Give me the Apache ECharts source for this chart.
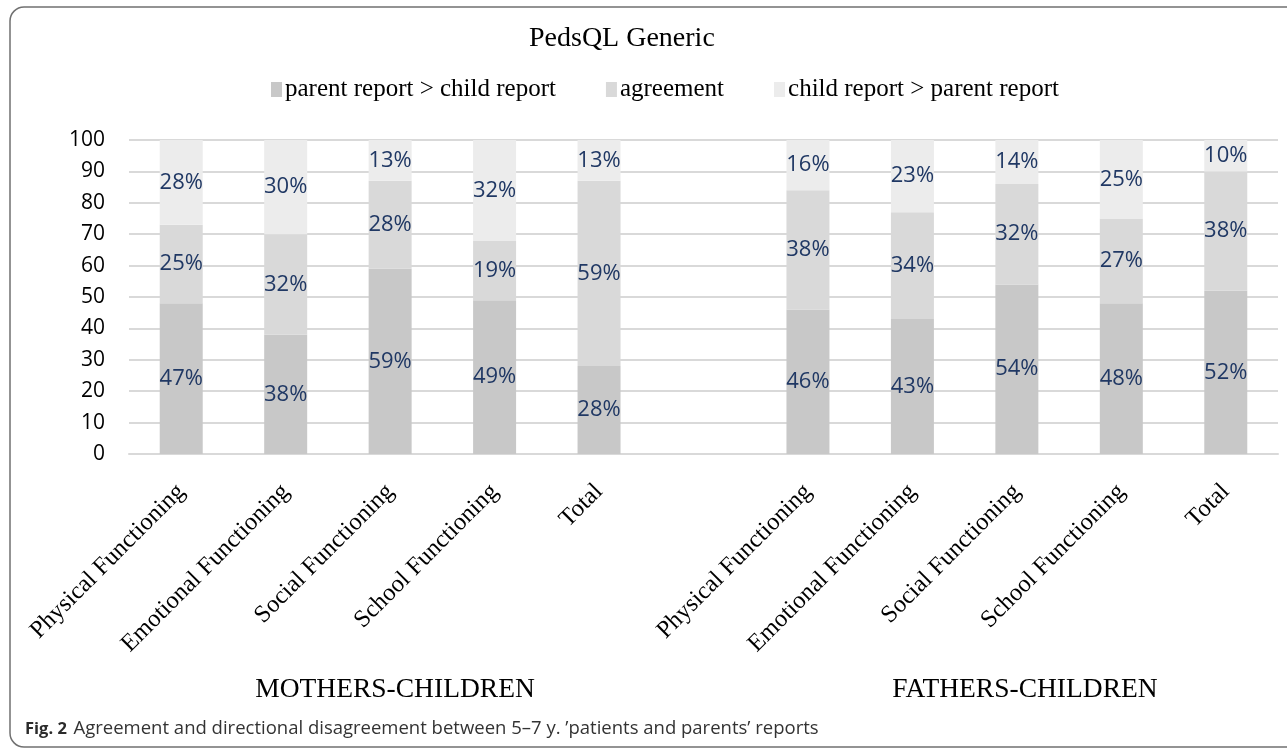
<!DOCTYPE html>
<html>
<head>
<meta charset="utf-8">
<script src="https://cdn.jsdelivr.net/npm/echarts@6/dist/echarts.min.js"></script>
<style>
html,body{margin:0;padding:0;background:#fff;}
#chart{width:1287px;height:749px;}
</style>
</head>
<body>
<div id="chart"></div>
<script>
// Categories (empty slot separates the two groups)
const categories = ['Physical Functioning','Emotional Functioning','Social Functioning','School Functioning','Total','',
  'Physical Functioning','Emotional Functioning','Social Functioning','School Functioning','Total'];
const seriesNames = ['parent report > child report','agreement','child report > parent report'];
// Segment heights as drawn
const parentGreater = [48, 38, 59, 49, 28, '-', 46, 43, 54, 48, 52];
const agreement     = [25, 32, 28, 19, 59, '-', 38, 34, 32, 27, 38];
const childGreater  = [27, 30, 13, 32, 13, '-', 16, 23, 14, 25, 10];
// Printed data labels
const parentLabels    = ['47%','38%','59%','49%','28%','','46%','43%','54%','48%','52%'];
const agreementLabels = ['25%','32%','28%','19%','59%','','38%','34%','32%','27%','38%'];
const childLabels     = ['28%','30%','13%','32%','13%','','16%','23%','14%','25%','10%'];
const yTicks = [0,10,20,30,40,50,60,70,80,90,100];
const groupLabels = ['MOTHERS-CHILDREN','FATHERS-CHILDREN'];

const colors = ['#c8c8c8','#d9d9d9','#ececec'];
const serif = 'Liberation Serif';
const sans = 'Open Sans';

function mkSeries(name, data, labels, color){
  return {
    name: name, type: 'bar', stack: 'total', data: data, barWidth: 43,
    itemStyle: {color: color},
    label: {show: true, position: 'inside', color: '#203864', fontFamily: sans, fontSize: 22,
      formatter: p => labels[p.dataIndex]},
    emphasis: {disabled: true}
  };
}

const chart = echarts.init(document.getElementById('chart'));
chart.setOption({
  animation: false,
  backgroundColor: '#fff',
  title: {text: 'PedsQL Generic', left: 524, top: 20,
    textStyle: {fontFamily: serif, fontSize: 28, fontWeight: 'normal', color: '#000'}},
  legend: {top: 72, left: 266, itemWidth: 11, itemHeight: 15, itemGap: 50,
    icon: 'rect',
    textStyle: {fontFamily: serif, fontSize: 25, color: '#000', padding: [0,0,0,-2]},
    data: seriesNames},
  grid: {left: 129, right: 9, top: 140, bottom: 295, containLabel: false},
  xAxis: {type: 'category', data: categories,
    axisLine: {show: true, lineStyle: {color: '#d9d9d9', width: 2}},
    axisTick: {show: false},
    axisLabel: {interval: 0, rotate: 45, margin: 34, fontFamily: serif, fontSize: 24.5, color: '#000'}},
  yAxis: {type: 'value', min: 0, max: 100, interval: 10,
    axisLine: {show: false}, axisTick: {show: false},
    splitLine: {lineStyle: {color: '#d9d9d9', width: 2}},
    axisLabel: {margin: 24, fontFamily: sans, fontSize: 21, color: '#000',
      formatter: v => (yTicks.indexOf(v) >= 0 ? String(v) : '')}},
  series: [
    mkSeries(seriesNames[0], parentGreater, parentLabels, colors[0]),
    mkSeries(seriesNames[1], agreement, agreementLabels, colors[1]),
    mkSeries(seriesNames[2], childGreater, childLabels, colors[2])
  ],
  graphic: [
    {type: 'rect', shape: {x: 10, y: 7, width: 1320, height: 740, r: 14},
      style: {fill: 'none', stroke: '#707070', lineWidth: 1.5}, silent: true},
    {type: 'text', x: 395, y: 690, style: {text: groupLabels[0], fontFamily: serif, fontSize: 27.5,
      fill: '#000', align: 'center', verticalAlign: 'middle'}},
    {type: 'text', x: 1025, y: 690, style: {text: groupLabels[1], fontFamily: serif, fontSize: 27.5,
      fill: '#000', align: 'center', verticalAlign: 'middle'}},
    {type: 'text', x: 25, y: 729, style: {
      text: '{b|Fig. 2}  {n|Agreement and directional disagreement between 5–7 y. ’patients and parents’ reports}',
      verticalAlign: 'middle',
      rich: {
        b: {fontFamily: sans, fontSize: 16.5, fontWeight: 'bold', fill: '#2b2b2b'},
        n: {fontFamily: sans, fontSize: 18.5, fill: '#333'}
      }}}
  ]
});
</script>
</body>
</html>
